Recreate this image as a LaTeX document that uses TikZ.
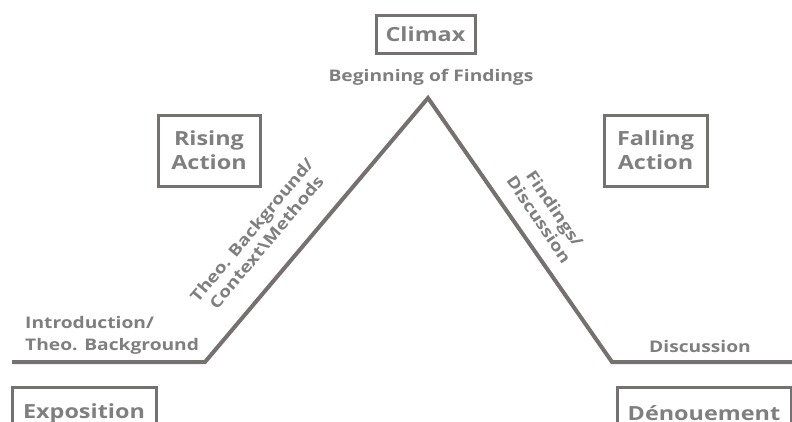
\documentclass[tikz,border=0pt]{standalone}
\usepackage{fontspec}
\setmainfont{Open Sans}[FakeStretch=1.2]
\usepackage{tikz}
\definecolor{linegray}{HTML}{767171}
\definecolor{textgray}{HTML}{7F7F7F}
\tikzset{
	stage/.style={draw=linegray, line width=3pt, text=textgray, align=center, inner sep=0pt,
		font=\fontsize{19.5}{24}\selectfont\bfseries},
	part/.style={text=textgray, inner sep=0pt, font=\fontsize{16}{22}\selectfont\bfseries},
	slant/.style={part, align=center, font=\fontsize{16}{19}\selectfont\bfseries},
	plotline/.style={draw=linegray, line width=4pt, line join=miter},
}

\begin{document}
\begin{tikzpicture}[x=1pt, y=-1pt]
		%%%%% START %%%%%
		\useasboundingbox (0, 0) rectangle (792, 421);
		\clip (0, 0) rectangle (792, 421);
		
		\coordinate (left) at (12, 362);
		\coordinate (foot1) at (205, 362);
		\coordinate (peak) at (428, 98);
		\coordinate (foot2) at (612, 362);
		\coordinate (right) at (795, 362);
		\draw[plotline] (left) -- (foot1) -- (peak) -- (foot2) -- (right);
		
		\node[stage, minimum width=99pt, minimum height=38pt] (climax) at (425.5, 34) {Climax};
		\node[stage, minimum width=102pt, minimum height=71pt] (rising) at (209, 150.5) {Rising\\Action};
		\node[stage, minimum width=103pt, minimum height=71pt] (falling) at (655.5, 150.5) {Falling\\Action};
		\node[stage, minimum width=144pt, minimum height=52pt] (expo) at (84, 413) {Exposition};
		\node[stage, minimum width=174pt, minimum height=52pt] (denoue) at (704, 413) {Dénouement};
		
		\node[part] (begin) at (431, 77) {Beginning of Findings};
		\node[part, anchor=west, align=left] (intro) at (25, 335) {Introduction/\\Theo. Background};
		\node[slant, rotate=50] (methods) at (259, 236) {Theo. Background/\\Context\textbackslash Methods};
		\node[slant, rotate=-56] (findings) at (547, 214) {Findings/\\Discussion};
		\node[part, anchor=base] (disc) at (700, 352) {Discussion};
		
		%%%%% END %%%%%
\end{tikzpicture}
\end{document}
